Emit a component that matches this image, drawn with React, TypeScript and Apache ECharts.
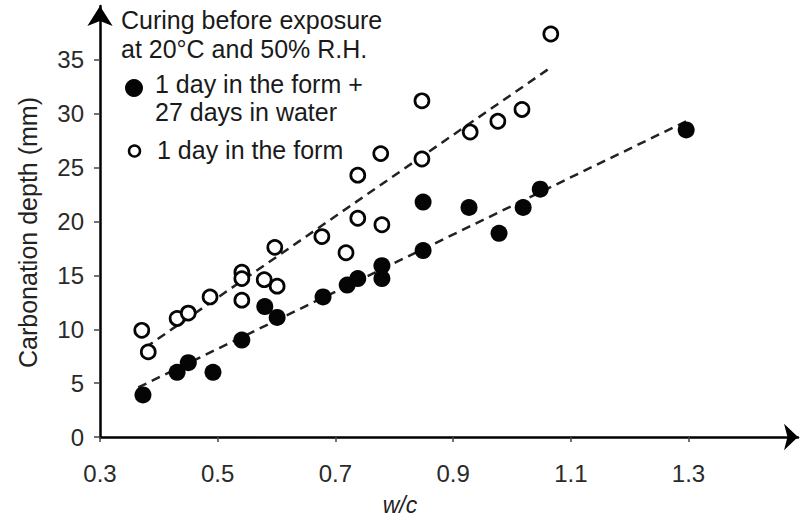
import React, { useEffect, useRef } from "react";
import * as echarts from "echarts";

// Filled circles: 1 day in the form + 27 days in water
const filledX = [0.373, 0.431, 0.45, 0.492, 0.541, 0.58, 0.601, 0.679, 0.72, 0.738, 0.779, 0.779, 0.849, 0.849, 0.927, 0.978, 1.019, 1.048, 1.296];
const filledY = [3.9, 6.0, 6.9, 6.0, 9.0, 12.1, 11.1, 13.0, 14.1, 14.7, 14.7, 15.9, 17.3, 21.8, 21.3, 18.9, 21.3, 23.0, 28.5];

// Open circles: 1 day in the form
const openX = [0.371, 0.382, 0.431, 0.45, 0.487, 0.541, 0.541, 0.541, 0.579, 0.601, 0.597, 0.677, 0.718, 0.738, 0.738, 0.779, 0.777, 0.847, 0.847, 0.929, 0.976, 1.017, 1.066];
const openY = [9.9, 7.9, 11.0, 11.5, 13.0, 15.3, 14.7, 12.7, 14.6, 14.0, 17.6, 18.6, 17.1, 20.3, 24.3, 19.7, 26.3, 25.8, 31.2, 28.3, 29.3, 30.4, 37.4];

// Dashed trend lines (end points)
const filledFitX = [0.365, 1.296];
const filledFitY = [4.6, 29.3];
const openFitX = [0.377, 1.066];
const openFitY = [8.3, 34.3];

const xTicks = [0.3, 0.5, 0.7, 0.9, 1.1, 1.3];
const yTicks = [0, 5, 10, 15, 20, 25, 30, 35];

const titleLines = ["Curing before exposure", "at 20°C and 50% R.H."];
const filledName = "1 day in the form +\n27 days in water";
const openName = "1 day in the form";
const xName = "w/c";
const yName = "Carbonation depth (mm)";

const FONT = "'Liberation Sans', Arial, Helvetica, sans-serif";
const INK = "#1a1a1a";

const zip = (xs: number[], ys: number[]) => xs.map((x, i) => [x, ys[i]]);

export default function App() {
  const ref = useRef<HTMLDivElement>(null);

  useEffect(() => {
    if (!ref.current) return;
    const chart = echarts.init(ref.current, undefined, { renderer: "svg" });
    chart.setOption({
      animation: false,
      backgroundColor: "#ffffff",
      grid: { left: 100, right: 3, top: 6, bottom: 87, containLabel: false },
      xAxis: {
        type: "value",
        min: 0.3,
        max: 1.486,
        name: xName,
        nameLocation: "middle",
        nameGap: 56,
        nameTextStyle: {
          fontFamily: FONT,
          fontSize: 23,
          fontStyle: "italic",
          color: "#222",
          padding: [0, 98, 0, 0],
        },
        splitLine: { show: false },
        axisLine: {
          onZero: false,
          symbol: ["none", "arrow"],
          symbolSize: [20, 14],
          lineStyle: { color: "#000", width: 2.5 },
        },
        axisTick: {
          customValues: xTicks,
          length: 5,
          lineStyle: { color: "#444", width: 1.5 },
        },
        axisLabel: {
          customValues: xTicks,
          formatter: (v: number) => v.toFixed(1),
          fontFamily: FONT,
          fontSize: 24,
          color: "#2a2a2a",
          margin: 24,
        },
      },
      yAxis: {
        type: "value",
        min: 0,
        max: 40,
        name: yName,
        nameLocation: "middle",
        nameGap: 60,
        nameTextStyle: {
          fontFamily: FONT,
          fontSize: 25,
          color: "#222",
          padding: [0, 22, 0, 0],
        },
        splitLine: { show: false },
        axisLine: {
          onZero: false,
          symbol: ["none", "arrow"],
          symbolSize: [19, 20],
          lineStyle: { color: "#000", width: 2.5 },
        },
        axisTick: {
          customValues: yTicks,
          length: 6,
          lineStyle: { color: "#444", width: 1.5 },
        },
        axisLabel: {
          customValues: yTicks,
          fontFamily: FONT,
          fontSize: 24,
          color: "#2a2a2a",
          margin: 16,
        },
      },
      series: [
        {
          name: "fit-filled",
          type: "line",
          data: zip(filledFitX, filledFitY),
          showSymbol: false,
          silent: true,
          z: 1,
          lineStyle: { color: "#222", width: 2.5, type: [9, 6] },
        },
        {
          name: "fit-open",
          type: "line",
          data: zip(openFitX, openFitY),
          showSymbol: false,
          silent: true,
          z: 1,
          lineStyle: { color: "#222", width: 2.5, type: [9, 6] },
        },
        {
          name: filledName,
          type: "scatter",
          data: zip(filledX, filledY),
          symbol: "circle",
          symbolSize: 17,
          z: 3,
          itemStyle: { color: "#050505", opacity: 1 },
        },
        {
          name: openName,
          type: "scatter",
          data: zip(openX, openY),
          symbol: "circle",
          symbolSize: 14,
          z: 3,
          itemStyle: { color: "#ffffff", borderColor: "#050505", borderWidth: 2.7, opacity: 1 },
        },
      ],
      graphic: [
        {
          type: "text",
          left: 121,
          top: 5,
          style: {
            text: titleLines.join("\n"),
            fontFamily: FONT,
            fontSize: 25,
            lineHeight: 29,
            fill: INK,
          },
        },
        {
          type: "circle",
          shape: { cx: 134, cy: 88, r: 9 },
          style: { fill: "#050505" },
        },
        {
          type: "text",
          left: 155,
          top: 70,
          style: {
            text: filledName,
            fontFamily: FONT,
            fontSize: 25,
            lineHeight: 28,
            fill: INK,
          },
        },
        {
          type: "circle",
          shape: { cx: 134.5, cy: 151, r: 5.5 },
          style: { fill: "#fff", stroke: "#050505", lineWidth: 2.5 },
        },
        {
          type: "text",
          left: 157,
          top: 136,
          style: {
            text: openName,
            fontFamily: FONT,
            fontSize: 25,
            lineHeight: 28,
            fill: INK,
          },
        },
      ],
    });
    return () => chart.dispose();
  }, []);

  return (
    <div
      ref={ref}
      style={{ position: "absolute", left: 0, top: 0, width: 801, height: 524 }}
    />
  );
}
